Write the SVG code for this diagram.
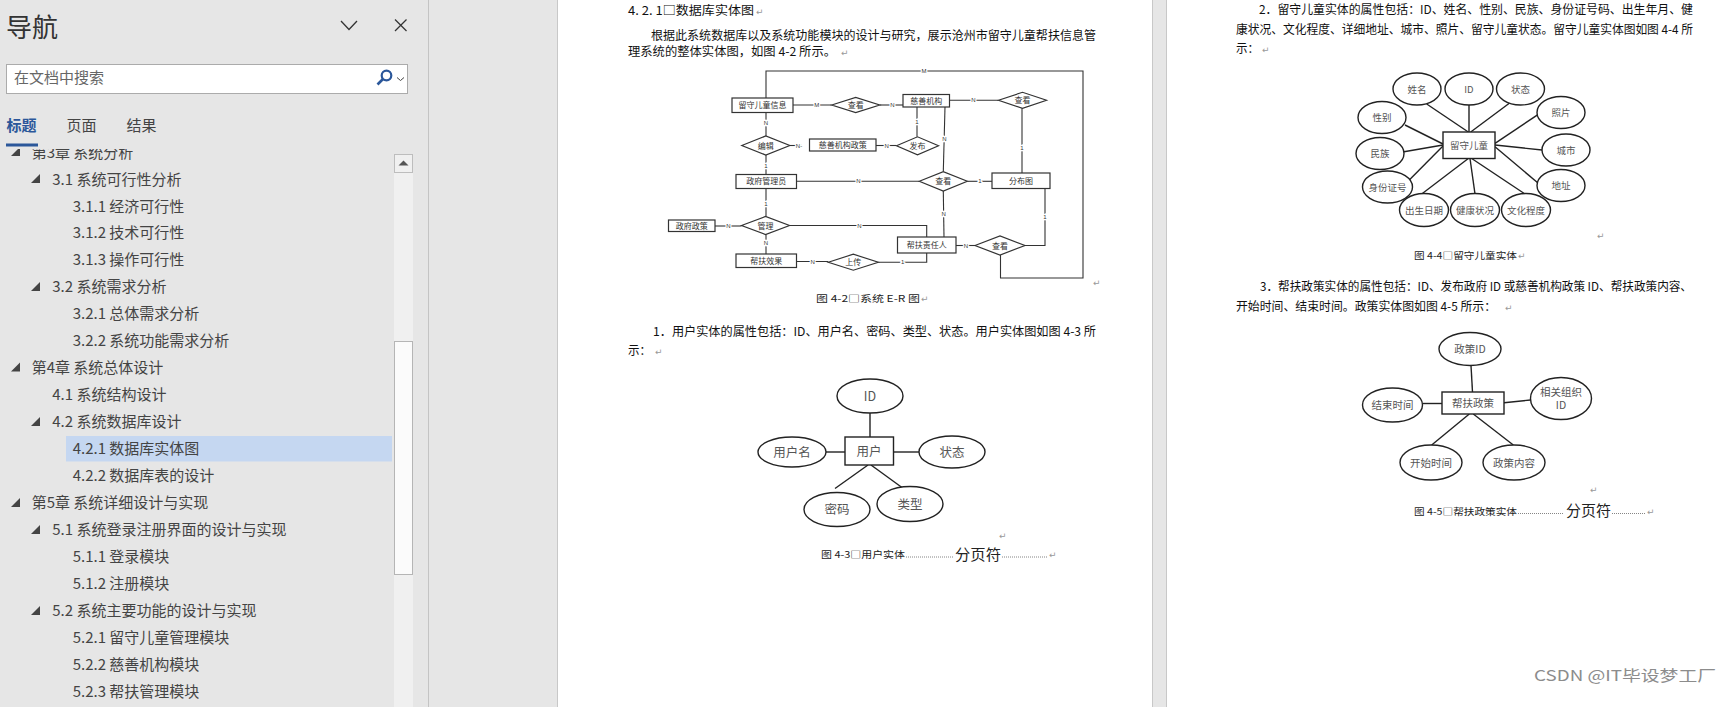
<svg xmlns="http://www.w3.org/2000/svg" width="1734" height="707" viewBox="0 0 1734 707">
<style>
.nav{font-family:"Noto Sans CJK SC","Noto Sans",sans-serif;font-size:15px;fill:#444}
.tri{fill:#444}
.doc{font-family:"Noto Sans CJK SC",sans-serif;font-size:12.4px;fill:#111}
.cap{font-family:"Noto Sans CJK SC",sans-serif;font-size:9.6px;fill:#222}
.brk{font-family:"Noto Sans CJK SC",sans-serif;font-size:15px;fill:#222}
.ret{font-family:"DejaVu Sans",sans-serif;font-size:9px;fill:#999}
.er rect,.er polygon{fill:#fff;stroke:#333;stroke-width:1.2}
.er text{font-family:"Noto Sans CJK SC",sans-serif;font-size:8px;fill:#333;text-anchor:middle}
.cn{fill:none;stroke:#333;stroke-width:1.1}
.lb{font-family:"Liberation Sans",sans-serif;font-size:6px;fill:#333;text-anchor:middle;paint-order:stroke;stroke:#fff;stroke-width:2.5px}
.ent rect,.ent ellipse{fill:#fff;stroke:#222;stroke-width:1.4}
.ent text{font-family:"Noto Sans CJK SC",sans-serif;fill:#555;text-anchor:middle}
.ln{stroke:#222;stroke-width:1.4;fill:none}
.dots{stroke:#666;stroke-width:0.8;stroke-dasharray:1 1}
</style>
<defs>
<clipPath id="treeclip"><rect x="0" y="149" width="392" height="558"/></clipPath>
</defs>

<!-- backgrounds -->
<rect x="0" y="0" width="1734" height="707" fill="#e6e6e6"/>
<line x1="428.5" y1="0" x2="428.5" y2="707" stroke="#c4c4c4"/>
<rect id="page1" x="558" y="0" width="594" height="707" fill="#fff"/>
<line x1="557.5" y1="0" x2="557.5" y2="707" stroke="#c8c8c8"/>
<line x1="1152.5" y1="0" x2="1152.5" y2="707" stroke="#c8c8c8"/>
<rect id="page2" x="1167" y="0" width="567" height="707" fill="#fff"/>
<line x1="1166.5" y1="0" x2="1166.5" y2="707" stroke="#c8c8c8"/>

<!-- navigation pane -->
<g id="nav-header">
<text x="6" y="36.5" font-family="Noto Sans CJK SC, sans-serif" font-size="26" fill="#333">导航</text>
<polyline points="341,21 349,29.5 357,21" fill="none" stroke="#333" stroke-width="1.3"/>
<line x1="395" y1="19.5" x2="406.5" y2="31" stroke="#333" stroke-width="1.3"/>
<line x1="406.5" y1="19.5" x2="395" y2="31" stroke="#333" stroke-width="1.3"/>
</g>
<g id="nav-search">
<rect x="6.5" y="64.5" width="401" height="29" fill="#fff" stroke="#ababab"/>
<text x="14" y="83" class="nav" style="fill:#666">在文档中搜索</text>
<circle cx="386.5" cy="75.5" r="4.8" fill="none" stroke="#2b579a" stroke-width="2.2"/>
<line x1="383" y1="79" x2="377.5" y2="84.5" stroke="#2b579a" stroke-width="2.6"/>
<polyline points="397,77.5 400.5,80.5 404,77.5" fill="none" stroke="#444" stroke-width="1"/>
</g>
<g id="nav-tabs">
<text x="6.5" y="131" class="nav" style="fill:#2b579a;font-weight:bold">标题</text>
<text x="66.5" y="131" class="nav">页面</text>
<text x="126.5" y="131" class="nav">结果</text>
<rect x="6" y="143.5" width="32" height="3" fill="#2b579a"/>
</g>
<g id="nav-scroll">
<rect x="394" y="154" width="19" height="553" fill="#f0f0f0"/>
<rect x="394.5" y="154.5" width="18" height="18" fill="#f0f0f0" stroke="#bdbdbd"/>
<polygon points="398.5,165.5 403.5,160.5 408.5,165.5" fill="#555"/>
<rect x="394.5" y="341.5" width="18" height="233" fill="#fbfbfb" stroke="#b5b5b5"/>
</g>
<g id="nav-tree" clip-path="url(#treeclip)">
<rect x="66" y="436" width="326" height="25.5" fill="#c5d7f1"/>
<polygon class="tri" points="11,156 20,156 20,147"/><text class="nav" x="31.7" y="157.5">第3章 系统分析</text>
<polygon class="tri" points="31,183 40,183 40,174"/><text class="nav" x="52.3" y="184.5">3.1 系统可行性分析</text>
<text class="nav" x="72.7" y="211.5">3.1.1 经济可行性</text>
<text class="nav" x="72.7" y="238.3">3.1.2 技术可行性</text>
<text class="nav" x="72.7" y="265.3">3.1.3 操作可行性</text>
<polygon class="tri" points="31,291 40,291 40,282"/><text class="nav" x="52.3" y="292.3">3.2 系统需求分析</text>
<text class="nav" x="72.7" y="319">3.2.1 总体需求分析</text>
<text class="nav" x="72.7" y="346">3.2.2 系统功能需求分析</text>
<polygon class="tri" points="11,371.5 20,371.5 20,362.5"/><text class="nav" x="31.7" y="373">第4章 系统总体设计</text>
<text class="nav" x="52.3" y="400">4.1 系统结构设计</text>
<polygon class="tri" points="31,426 40,426 40,417"/><text class="nav" x="52.3" y="427.3">4.2 系统数据库设计</text>
<text class="nav" x="72.7" y="454">4.2.1 数据库实体图</text>
<text class="nav" x="72.7" y="481.3">4.2.2 数据库表的设计</text>
<polygon class="tri" points="11,507 20,507 20,498"/><text class="nav" x="31.7" y="508.3">第5章 系统详细设计与实现</text>
<polygon class="tri" points="31,534 40,534 40,525"/><text class="nav" x="52.3" y="535.3">5.1 系统登录注册界面的设计与实现</text>
<text class="nav" x="72.7" y="562.3">5.1.1 登录模块</text>
<text class="nav" x="72.7" y="589.3">5.1.2 注册模块</text>
<polygon class="tri" points="31,615 40,615 40,606"/><text class="nav" x="52.3" y="616.3">5.2 系统主要功能的设计与实现</text>
<text class="nav" x="72.7" y="643.3">5.2.1 留守儿童管理模块</text>
<text class="nav" x="72.7" y="670.3">5.2.2 慈善机构模块</text>
<text class="nav" x="72.7" y="697.3">5.2.3 帮扶管理模块</text>
</g>

<!-- page 1 text -->
<g id="p1-text">
<text class="doc" x="628" y="14.5" style="font-size:12px" textLength="126" lengthAdjust="spacingAndGlyphs">4. 2. 1□数据库实体图</text>
<text class="ret" x="756" y="14.5">↵</text>
<text class="doc" x="651" y="39.5" textLength="445" lengthAdjust="spacingAndGlyphs">根据此系统数据库以及系统功能模块的设计与研究，展示沧州市留守儿童帮扶信息管</text>
<text class="doc" x="628" y="55.5" textLength="208" lengthAdjust="spacingAndGlyphs">理系统的整体实体图，如图 4-2 所示。</text>
<text class="ret" x="841" y="55.5">↵</text>
<text class="ret" x="1093" y="286">↵</text>
<text class="cap" x="816" y="302" textLength="104" lengthAdjust="spacingAndGlyphs">图 4-2□系统 E-R 图</text>
<text class="ret" x="921" y="302">↵</text>
<text class="doc" x="653" y="335.5" textLength="443" lengthAdjust="spacingAndGlyphs">1．用户实体的属性包括：ID、用户名、密码、类型、状态。用户实体图如图 4-3 所</text>
<text class="doc" x="628" y="354.5" textLength="23" lengthAdjust="spacingAndGlyphs">示：</text>
<text class="ret" x="655" y="354.5">↵</text>
<text class="ret" x="999" y="539">↵</text>
<text class="cap" x="821" y="558" textLength="84" lengthAdjust="spacingAndGlyphs">图 4-3□用户实体</text>
<line class="dots" x1="906" y1="557" x2="953" y2="557"/>
<text class="brk" x="955" y="559.5" textLength="46" lengthAdjust="spacingAndGlyphs">分页符</text>
<line class="dots" x1="1002" y1="557" x2="1048" y2="557"/>
<text class="ret" x="1049" y="558">↵</text>
</g>

<!-- page 1 E-R diagram -->
<g id="er-connectors">
<polyline class="cn" points="766,98 766,71 1083,71 1083,278 1000.5,278 1000.5,255"/>
<line class="cn" x1="793" y1="105" x2="831.7" y2="105"/>
<line class="cn" x1="879.7" y1="105" x2="903" y2="105"/>
<line class="cn" x1="949.5" y1="100.3" x2="998.5" y2="100.3"/>
<line class="cn" x1="1022" y1="108.3" x2="1022" y2="173"/>
<line class="cn" x1="766" y1="112.5" x2="766" y2="136"/>
<line class="cn" x1="789.8" y1="145.5" x2="802" y2="145.5"/>
<line class="cn" x1="876" y1="145.5" x2="896.5" y2="145.5"/>
<line class="cn" x1="917" y1="136.8" x2="917" y2="107"/>
<line class="cn" x1="945" y1="107" x2="943.3" y2="171.6"/>
<line class="cn" x1="766" y1="155" x2="766" y2="174.5"/>
<line class="cn" x1="796.5" y1="181.3" x2="919.3" y2="181.3"/>
<line class="cn" x1="967.3" y1="181.3" x2="992" y2="181.3"/>
<line class="cn" x1="943.3" y1="191" x2="944" y2="237"/>
<line class="cn" x1="766" y1="188.5" x2="766" y2="216.5"/>
<line class="cn" x1="715" y1="226" x2="741.5" y2="226"/>
<polyline class="cn" points="789.5,225.5 926.7,225.5 926.7,237"/>
<line class="cn" x1="766" y1="234.5" x2="766" y2="254"/>
<line class="cn" x1="796.5" y1="261.5" x2="828.3" y2="261.5"/>
<polyline class="cn" points="878.3,262.2 926.7,262.2 926.7,253"/>
<line class="cn" x1="956" y1="245.5" x2="975" y2="245.5"/>
<polyline class="cn" points="1025,245.5 1045,245.5 1045,188.5"/>
<text class="lb" x="924" y="73">M</text>
<text class="lb" x="816.7" y="107">M</text>
<text class="lb" x="892.3" y="107">N</text>
<text class="lb" x="973.3" y="102.3">N</text>
<text class="lb" x="1022" y="150.3">1</text>
<text class="lb" x="766" y="124.7">N</text>
<text class="lb" x="799" y="147.5">N-</text>
<text class="lb" x="886.7" y="147.5">N</text>
<text class="lb" x="917" y="123.7">1</text>
<text class="lb" x="944.3" y="141">N</text>
<text class="lb" x="766" y="168">1</text>
<text class="lb" x="858.3" y="183.3">N</text>
<text class="lb" x="980" y="183.3">1</text>
<text class="lb" x="943.7" y="216">N</text>
<text class="lb" x="766" y="206.3">1</text>
<text class="lb" x="728.3" y="228">N</text>
<text class="lb" x="859.3" y="227.5">N</text>
<text class="lb" x="766" y="245.3">N</text>
<text class="lb" x="812.7" y="263.5">N</text>
<text class="lb" x="902.7" y="264.2">1</text>
<text class="lb" x="966" y="247.5">N</text>
<text class="lb" x="1045" y="219.3">1</text>
</g>
<g class="er">
<g id="e-child-info"><rect x="732" y="98" width="61" height="14.5"/><text x="762.5" y="108">留守儿童信息</text></g>
<g id="e-charity"><rect x="903" y="94.5" width="46.5" height="12.5"/><text x="926.2" y="103.5">慈善机构</text></g>
<g id="e-charity-policy"><rect x="809.5" y="139" width="66.5" height="12"/><text x="842.7" y="147.8">慈善机构政策</text></g>
<g id="e-gov-admin"><rect x="736" y="174.5" width="60.5" height="14"/><text x="766.2" y="184.3">政府管理员</text></g>
<g id="e-map"><rect x="992" y="173" width="58" height="15.5"/><text x="1021" y="183.5">分布图</text></g>
<g id="e-gov-policy"><rect x="668.5" y="220" width="46.5" height="11.5"/><text x="691.7" y="228.6">政府政策</text></g>
<g id="e-helper"><rect x="897.5" y="237" width="58.5" height="16"/><text x="926.7" y="248">帮扶责任人</text></g>
<g id="e-effect"><rect x="736" y="254" width="60.5" height="13.5"/><text x="766.2" y="263.6">帮扶效果</text></g>
<g id="r-view1"><polygon points="831.7,105 855.7,97.5 879.7,105 855.7,112.5"/><text x="855.7" y="108">查看</text></g>
<g id="r-view2"><polygon points="998.5,100.3 1022.5,92.3 1046.5,100.3 1022.5,108.3"/><text x="1022.5" y="103.3">查看</text></g>
<g id="r-edit"><polygon points="741.8,145.5 765.8,136 789.8,145.5 765.8,155"/><text x="765.8" y="148.5">编辑</text></g>
<g id="r-publish"><polygon points="896.5,145.8 917.5,136.8 938.5,145.8 917.5,154.8"/><text x="917.5" y="148.8">发布</text></g>
<g id="r-view3"><polygon points="919.3,181.3 943.3,171.6 967.3,181.3 943.3,191"/><text x="943.3" y="184.3">查看</text></g>
<g id="r-manage"><polygon points="741.5,225.5 765.5,216.5 789.5,225.5 765.5,234.5"/><text x="765.5" y="228.5">管理</text></g>
<g id="r-view4"><polygon points="975,245.5 1000,236 1025,245.5 1000,255"/><text x="1000" y="248.5">查看</text></g>
<g id="r-upload"><polygon points="828.3,262.2 853.3,254.2 878.3,262.2 853.3,270.2"/><text x="853.3" y="265.2">上传</text></g>
</g>

<!-- user entity diagram -->
<g id="user-entity" class="ent">
<g id="u-lines">
<line class="ln" x1="870" y1="413" x2="870" y2="437"/>
<line class="ln" x1="826" y1="452" x2="845" y2="452"/>
<line class="ln" x1="893.5" y1="452" x2="919" y2="452"/>
<line class="ln" x1="868" y1="465" x2="835" y2="488.5"/>
<line class="ln" x1="871" y1="465" x2="902" y2="487.5"/>
</g>
<g id="u-id"><ellipse cx="870" cy="396" rx="33" ry="17"/><text x="870" y="400.5" font-size="12.5">ID</text></g>
<g id="u-user"><rect x="845" y="437" width="48.5" height="28"/><text x="869" y="455.5" font-size="12.5">用户</text></g>
<g id="u-name"><ellipse cx="792" cy="452" rx="34" ry="15"/><text x="792" y="456.5" font-size="12.5">用户名</text></g>
<g id="u-state"><ellipse cx="952" cy="452" rx="33" ry="16"/><text x="952" y="456.5" font-size="12.5">状态</text></g>
<g id="u-pwd"><ellipse cx="837" cy="509.5" rx="33" ry="17"/><text x="837" y="514" font-size="12.5">密码</text></g>
<g id="u-type"><ellipse cx="910" cy="504" rx="33" ry="17.5"/><text x="910" y="508.5" font-size="12.5">类型</text></g>
</g>

<!-- page 2 text -->
<g id="p2-text">
<text class="doc" x="1259" y="14" textLength="434" lengthAdjust="spacingAndGlyphs">2．留守儿童实体的属性包括：ID、姓名、性别、民族、身份证号码、出生年月、健</text>
<text class="doc" x="1236" y="33.5" textLength="457" lengthAdjust="spacingAndGlyphs">康状况、文化程度、详细地址、城市、照片、留守儿童状态。留守儿童实体图如图 4-4 所</text>
<text class="doc" x="1236" y="52.5" textLength="23" lengthAdjust="spacingAndGlyphs">示：</text>
<text class="ret" x="1262" y="52.5">↵</text>
<text class="ret" x="1597" y="239">↵</text>
<text class="cap" x="1414" y="259" textLength="103" lengthAdjust="spacingAndGlyphs">图 4-4□留守儿童实体</text>
<text class="ret" x="1518" y="259">↵</text>
<text class="doc" x="1260" y="290.5" textLength="432" lengthAdjust="spacingAndGlyphs">3．帮扶政策实体的属性包括：ID、发布政府 ID 或慈善机构政策 ID、帮扶政策内容、</text>
<text class="doc" x="1236" y="310.5" textLength="260" lengthAdjust="spacingAndGlyphs">开始时间、结束时间。政策实体图如图 4-5 所示：</text>
<text class="ret" x="1505" y="310.5">↵</text>
<text class="ret" x="1590" y="493">↵</text>
<text class="cap" x="1414" y="514.5" textLength="103" lengthAdjust="spacingAndGlyphs">图 4-5□帮扶政策实体</text>
<line class="dots" x1="1518" y1="513.5" x2="1564" y2="513.5"/>
<text class="brk" x="1566" y="516" textLength="45" lengthAdjust="spacingAndGlyphs">分页符</text>
<line class="dots" x1="1612" y1="513.5" x2="1645" y2="513.5"/>
<text class="ret" x="1647" y="514.5">↵</text>
</g>

<!-- left-behind child entity -->
<g id="child-entity" class="ent">
<g id="c-lines">
<line class="ln" x1="1426.7" y1="104" x2="1468.3" y2="132"/>
<line class="ln" x1="1469" y1="105" x2="1469" y2="132"/>
<line class="ln" x1="1509.3" y1="103.3" x2="1470.7" y2="132"/>
<line class="ln" x1="1538.3" y1="114.3" x2="1495" y2="143.3"/>
<line class="ln" x1="1542" y1="150" x2="1495" y2="145"/>
<line class="ln" x1="1538.3" y1="183.3" x2="1495" y2="146.7"/>
<line class="ln" x1="1405" y1="125" x2="1443" y2="144"/>
<line class="ln" x1="1404" y1="151.7" x2="1443" y2="145"/>
<line class="ln" x1="1409.3" y1="180" x2="1443" y2="146"/>
<line class="ln" x1="1421.7" y1="194" x2="1468.3" y2="158.5"/>
<line class="ln" x1="1475" y1="194" x2="1470" y2="158.5"/>
<line class="ln" x1="1525" y1="194" x2="1471.7" y2="158.5"/>
</g>
<g id="c-box"><rect x="1443" y="132" width="52" height="26.5"/><text x="1469" y="148.5" font-size="9.5">留守儿童</text></g>
<g id="c-name"><ellipse cx="1417" cy="89" rx="24" ry="16"/><text x="1417" y="92.5" font-size="9.5">姓名</text></g>
<g id="c-id"><ellipse cx="1469" cy="89" rx="24" ry="16"/><text x="1469" y="92.5" font-size="9.5">ID</text></g>
<g id="c-state"><ellipse cx="1520.5" cy="89" rx="24" ry="16"/><text x="1520.5" y="92.5" font-size="9.5">状态</text></g>
<g id="c-gender"><ellipse cx="1382" cy="117.5" rx="24" ry="16"/><text x="1382" y="121" font-size="9.5">性别</text></g>
<g id="c-photo"><ellipse cx="1561" cy="112.5" rx="24" ry="16"/><text x="1561" y="116" font-size="9.5">照片</text></g>
<g id="c-nation"><ellipse cx="1380" cy="153.5" rx="24" ry="16"/><text x="1380" y="157" font-size="9.5">民族</text></g>
<g id="c-city"><ellipse cx="1566" cy="150" rx="24" ry="16"/><text x="1566" y="153.5" font-size="9.5">城市</text></g>
<g id="c-idcard"><ellipse cx="1387.5" cy="187" rx="25" ry="16"/><text x="1387.5" y="190.5" font-size="9.5">身份证号</text></g>
<g id="c-addr"><ellipse cx="1561" cy="185.5" rx="24" ry="16"/><text x="1561" y="189" font-size="9.5">地址</text></g>
<g id="c-birth"><ellipse cx="1424" cy="210" rx="24.5" ry="16.5"/><text x="1424" y="213.5" font-size="9.5">出生日期</text></g>
<g id="c-health"><ellipse cx="1475" cy="210" rx="24.5" ry="16.5"/><text x="1475" y="213.5" font-size="9.5">健康状况</text></g>
<g id="c-edu"><ellipse cx="1526" cy="210" rx="24.5" ry="16.5"/><text x="1526" y="213.5" font-size="9.5">文化程度</text></g>
</g>

<!-- policy entity -->
<g id="policy-entity" class="ent">
<g id="p-lines">
<line class="ln" x1="1471" y1="365.5" x2="1472.5" y2="392"/>
<line class="ln" x1="1422.5" y1="403.5" x2="1442" y2="403.5"/>
<line class="ln" x1="1504" y1="402.7" x2="1530.5" y2="400"/>
<line class="ln" x1="1469.3" y1="414" x2="1431.7" y2="445"/>
<line class="ln" x1="1473.3" y1="414" x2="1513.3" y2="445"/>
</g>
<g id="p-box"><rect x="1442" y="392" width="62" height="22"/><text x="1473" y="406.5" font-size="10.5">帮扶政策</text></g>
<g id="p-id"><ellipse cx="1470" cy="349" rx="31" ry="16.5"/><text x="1470" y="353" font-size="10.5">政策ID</text></g>
<g id="p-end"><ellipse cx="1392.5" cy="405" rx="30" ry="17"/><text x="1392.5" y="409" font-size="10.5">结束时间</text></g>
<g id="p-org"><ellipse cx="1561" cy="398.5" rx="30.5" ry="21"/><text x="1561" y="396" font-size="10.5">相关组织</text><text x="1561" y="409" font-size="10.5">ID</text></g>
<g id="p-start"><ellipse cx="1431" cy="462.5" rx="31" ry="17.5"/><text x="1431" y="466.5" font-size="10.5">开始时间</text></g>
<g id="p-content"><ellipse cx="1514" cy="462.5" rx="31" ry="17.5"/><text x="1514" y="466.5" font-size="10.5">政策内容</text></g>
</g>

<text x="1534" y="681" font-family="Noto Sans CJK SC, sans-serif" font-size="15" fill="#8c8c8c" textLength="182" lengthAdjust="spacingAndGlyphs">CSDN @IT毕设梦工厂</text>
</svg>
